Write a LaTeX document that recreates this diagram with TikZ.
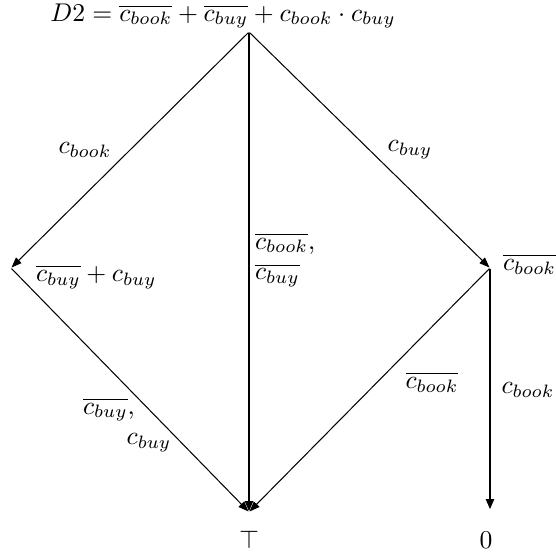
\documentclass[tikz,border=0pt]{standalone}
\usetikzlibrary{arrows.meta}
\tikzset{
  point/.style={inner sep=0pt,minimum size=0pt},
  arc/.style={draw=black,line width=0.4pt,-{Triangle[length=4pt,width=3pt]}},
  main arc/.style={arc,line width=1pt},
  formula/.style={inner sep=1pt},
  arc label/.style={inner sep=1pt,align=left}
}
\begin{document}
\begin{tikzpicture}[x=0.39pt,y=-0.39pt]
  \useasboundingbox (0,0) rectangle (556,559);
  % points
  \node[point] (d2) at (249,32) {};
  \node[point] (left) at (11,268) {};
  \node[point] (right) at (490,268) {};
  \node[point] (top) at (249,512) {};
  \node[point] (zero) at (490,510) {};
  % formulas at the points
  \node[formula] (d2txt) at (223,16)
    {$D2 = \overline{c_{book}} + \overline{c_{buy}} + c_{book}\cdot c_{buy}$};
  \node[formula,anchor=west] (lefttxt) at (33,277) {$\overline{c_{buy}} + c_{buy}$};
  \node[formula,anchor=west] (righttxt) at (500,264) {$\overline{c_{book}}$};
  \node[formula] (toptxt) at (249,540) {$\top$};
  \node[formula] (zerotxt) at (486,540) {$0$};
  % arcs
  \draw[arc] (d2) -- (left);
  \draw[arc] (d2) -- (right);
  \draw[main arc] (d2) -- (top);
  \draw[arc] (left) -- (top);
  \draw[arc] (right) -- (top);
  \draw[main arc] (right) -- (zero);
  % arc labels
  \node[arc label] (lbook) at (85,150) {$c_{book}$};
  \node[arc label] (rbuy) at (410,150) {$c_{buy}$};
  \node[arc label,anchor=west] (mid) at (252,260)
    {$\overline{c_{book}}$,\\ $\overline{c_{buy}}$};
  \node[arc label,anchor=west] (lbot) at (80,425)
    {$\overline{c_{buy}}$,\\ \hspace{17pt}$c_{buy}$};
  \node[arc label] (rbot) at (432,382) {$\overline{c_{book}}$};
  \node[arc label] (zbook) at (528,390) {$c_{book}$};
\end{tikzpicture}
\end{document}
